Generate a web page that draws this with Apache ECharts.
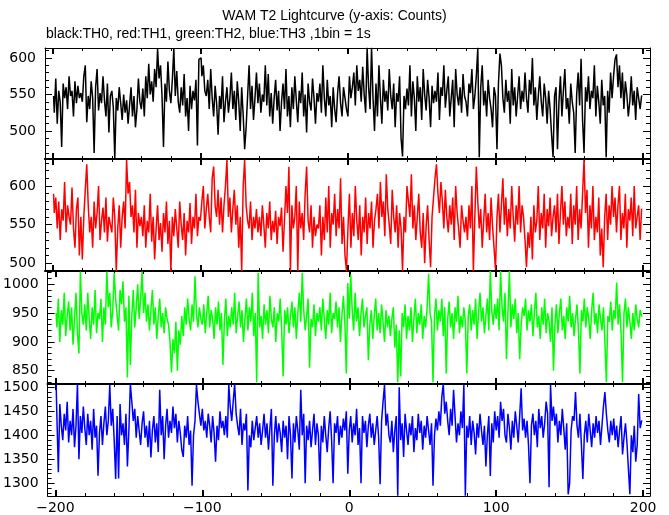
<!DOCTYPE html>
<html><head><meta charset="utf-8">
<script src="https://cdn.jsdelivr.net/npm/echarts@6/dist/echarts.min.js"></script>
<style>html,body{margin:0;padding:0;background:#fff}#c{width:669px;height:515px}</style>
</head><body><div id="c"></div><script>
// ---- data (1 bin = 1 s, first bin starts at -200 s) ----
const binStart = -200;
const binSize = 1;
const th0 = [
548,525,572,510,555,540,478,565,545,560,530,575,548,555,520,568,538,562,545,552,
540,575,590,512,548,530,568,545,470,560,585,528,552,538,575,542,520,565,498,548,
555,532,462,545,528,560,538,515,550,525,542,510,535,560,520,548,505,530,572,540,
530,558,520,575,545,592,550,568,540,585,560,613,572,590,548,478,565,540,595,555,
538,570,613,548,582,540,525,560,535,578,520,545,500,562,530,555,542,570,480,598,
600,575,590,555,548,570,530,585,545,520,562,538,495,548,530,575,512,540,560,525,
545,580,530,555,515,568,540,500,560,522,475,505,548,590,530,562,515,545,580,538,
565,525,550,540,590,535,578,520,552,510,545,570,528,555,500,540,565,530,585,520,
548,505,560,530,575,542,512,555,538,580,520,550,498,565,540,528,572,545,510,552,
540,565,525,590,545,520,570,535,548,505,560,530,512,552,575,538,520,560,545,530,
520,575,545,560,580,535,590,555,570,540,588,550,525,614,560,530,614,545,500,565,
520,590,545,510,570,540,555,528,585,548,530,565,505,552,540,575,490,465,548,530,
558,535,590,520,568,545,500,575,540,560,515,585,550,528,570,545,505,562,538,555,
540,580,515,560,548,590,532,555,575,520,545,570,505,585,550,535,560,525,578,548,
540,520,565,552,585,530,548,575,614,464,560,590,535,555,520,570,545,530,505,560,
548,475,565,606,590,545,525,570,540,555,510,585,535,560,520,548,575,530,555,540,
580,545,525,570,550,600,535,560,515,548,575,540,520,565,545,510,555,530,495,464,
548,560,475,540,575,520,555,585,530,545,510,565,540,525,470,550,580,535,599,515,
470,560,540,575,530,555,545,590,520,562,540,510,570,535,548,464,555,525,580,545,
575,598,605,560,590,545,580,530,568,550,520,540,575,535,555,515,560,545,530,548
];
const th1 = [
590,565,585,545,580,530,570,555,605,540,575,560,550,598,545,520,570,585,510,560,
505,560,595,628,575,540,560,520,580,545,565,600,530,555,572,540,585,528,560,550,
540,585,560,490,545,575,520,560,580,545,634,590,605,560,575,540,595,520,565,548,
560,535,575,520,555,540,590,528,560,505,545,575,530,552,515,565,540,580,525,555,
490,560,535,570,545,520,580,550,530,565,510,555,540,578,525,560,545,590,535,560,
555,580,600,545,570,590,560,540,610,625,575,560,595,550,585,540,575,600,634,560,
585,540,570,595,550,575,520,560,490,600,634,575,555,545,580,530,560,545,570,540,
560,535,575,550,520,565,545,580,530,555,540,568,525,560,548,572,515,555,600,565,
625,490,575,545,560,600,490,580,545,565,530,590,625,555,540,575,520,560,535,550,
545,575,510,560,530,585,540,600,520,565,550,590,535,570,545,610,525,560,510,490,
545,590,520,565,535,600,555,530,575,510,560,540,585,525,565,545,580,520,555,570,
590,545,605,560,580,535,615,570,550,525,595,560,540,575,520,565,545,490,560,540,
600,580,560,615,545,575,530,560,590,540,520,565,500,548,575,530,495,560,585,610,
628,590,565,605,580,545,595,560,540,575,550,585,530,600,565,545,520,575,555,540,
560,530,575,545,600,490,560,625,580,545,570,520,555,590,540,565,530,585,548,520,
492,560,590,540,575,610,550,585,535,570,545,600,560,528,575,550,600,540,575,560,
530,495,540,520,560,505,575,540,555,600,530,565,545,590,520,570,548,585,535,560,
575,540,590,525,565,600,550,580,535,560,545,590,525,575,550,600,530,570,545,590,
634,565,595,520,575,545,600,530,560,540,585,510,545,495,560,590,530,575,550,600,
560,585,540,575,600,530,565,545,590,520,570,555,585,535,600,545,560,575,530,570
];
const th2 = [
950,925,975,900,955,930,985,910,945,970,920,960,895,940,985,915,880,1022,950,930,
965,920,985,940,905,960,930,990,915,950,940,975,900,960,930,1022,960,985,925,955,
1020,975,945,920,990,965,1005,935,960,838,980,860,945,990,925,960,1000,940,975,1022,
950,985,935,965,920,955,990,930,960,905,945,975,925,950,915,960,940,930,900,847,
905,880,935,850,920,895,945,910,960,930,975,940,920,965,935,1014,950,925,960,940,
930,965,915,950,980,925,955,940,905,960,930,970,920,950,860,935,975,910,945,925,
960,930,985,915,945,970,925,955,900,940,975,920,960,935,985,910,950,830,1020,925,
945,905,965,930,955,915,980,940,925,960,900,950,935,975,920,840,955,930,960,915,
945,970,925,960,905,950,985,935,1020,955,920,945,975,855,940,925,965,910,950,935,
960,920,975,940,905,955,930,985,915,950,940,970,925,960,900,945,980,935,845,1002,
940,1017,955,920,985,935,960,910,950,975,925,945,960,868,930,955,905,945,975,920,
950,915,965,935,900,955,925,945,910,940,960,890,930,830,920,840,950,925,965,905,
945,920,960,900,940,975,915,950,930,965,905,945,925,960,1018,950,935,830,945,975,
920,955,935,975,910,960,845,940,970,925,950,905,960,935,980,915,945,925,960,935,
845,945,965,920,955,930,975,905,950,985,935,960,915,945,975,920,1023,955,930,965,
940,975,920,1023,960,935,985,870,950,1023,925,965,940,975,915,950,870,930,960,945,
975,920,955,935,965,910,950,985,925,945,905,960,930,975,915,950,935,900,960,850,
930,965,915,950,975,920,945,905,960,935,980,925,950,910,940,965,920,845,955,935,
975,925,960,940,905,955,985,930,950,915,965,940,920,960,900,830,945,935,970,920,
955,940,1003,930,965,915,830,950,975,925,960,935,905,950,920,965,940,925,955,945
];
const th3 = [
1505,1440,1323,1465,1420,1390,1445,1410,1470,1385,1430,1400,1455,1375,1420,1507,1350,1440,1405,1460,
1415,1380,1445,1400,1430,1370,1455,1395,1420,1316,1405,1440,1380,1425,1460,1400,1430,1505,1420,1455,
1390,1309,1440,1310,1465,1400,1425,1380,1445,1335,1410,1507,1470,1430,1455,1395,1440,1410,1380,1425,
1450,1395,1420,1375,1430,1354,1410,1440,1385,1425,1365,1495,1400,1440,1350,1420,1455,1395,1430,1405,
1460,1415,1445,1385,1430,1405,1370,1355,1420,1395,1440,1380,1410,1295,1400,1430,1505,1470,1445,1420,
1455,1410,1430,1395,1445,1420,1385,1440,1405,1345,1420,1390,1450,1415,1430,1400,1440,1395,1505,1460,
1430,1470,1507,1445,1420,1400,1455,1380,1425,1410,1445,1285,1400,1375,1430,1390,1415,1440,1395,1425,
1380,1410,1445,1395,1425,1370,1415,1455,1295,1400,1440,1385,1425,1405,1365,1430,1395,1420,1350,1440,
1400,1310,1425,1385,1440,1410,1370,1495,1400,1445,1300,1420,1390,1430,1375,1410,1445,1380,1425,1400,
1305,1420,1385,1440,1400,1365,1415,1450,1390,1300,1425,1405,1440,1380,1420,1395,1435,1410,1450,1320,
1410,1440,1385,1425,1400,1455,1380,1415,1300,1440,1405,1430,1375,1420,1445,1395,1425,1380,1410,1440,
1395,1298,1430,1470,1505,1420,1445,1400,1385,1430,1365,1410,1440,1274,1500,1390,1425,1355,1445,1410,
1380,1425,1400,1440,1365,1415,1390,1445,1405,1430,1370,1420,1395,1440,1410,1380,1425,1295,1400,1435,
1410,1450,1420,1480,1507,1445,1470,1430,1400,1455,1420,1495,1440,1385,1425,1400,1450,1415,1505,1274,
1420,1395,1440,1380,1430,1405,1360,1425,1395,1445,1410,1380,1420,1335,1400,1440,1315,1425,1385,1450,
1410,1440,1395,1470,1430,1455,1400,1385,1445,1415,1370,1430,1395,1450,1420,1385,1440,1498,1410,1435,
1395,1430,1380,1300,1420,1445,1400,1430,1375,1455,1415,1440,1395,1425,1470,1445,1292,1505,1430,1460,
1420,1445,1385,1430,1400,1455,1415,1370,1425,1277,1300,1410,1440,1430,1490,1420,1395,1445,1380,1309,
1400,1430,1385,1445,1410,1375,1425,1395,1440,1405,1430,1380,1420,1460,1490,1445,1410,1385,1430,1400,
1435,1390,1420,1375,1410,1440,1360,1395,1425,1385,1330,1277,1400,1365,1420,1345,1380,1486,1415,1430
];
const seriesNames = ['TH0','TH1','TH2','TH3'];
const xMajorTicks = [-200,-100,0,100,200];
const xMinorTicks = [-200,-180,-160,-140,-120,-100,-80,-60,-40,-20,0,20,40,60,80,100,120,140,160,180,200];
const yExtents = [[461.6,613.7],[490,634.9],[826.9,1023],[1273.5,1506.9]];
const titleText = 'WAM T2 Lightcurve (y-axis: Counts)';
const subtitleText = 'black:TH0, red:TH1, green:TH2, blue:TH3 ,1bin = 1s';

// ---- chart ----
const colors = ['#000000','#ff0000','#00ff00','#0000ff'];
const allData = [th0, th1, th2, th3];
const gridTops = [48,159,271,384];
const gridHeights = [111,112,113,112];
const LBL = 'DejaVu Sans, sans-serif';
const TTL = 'Liberation Sans, Arial, sans-serif';
function steps(a, b, s){ const r=[]; for(let v=a; v<=b+1e-9; v+=s) r.push(v); return r; }
const minus = v => String(v).replace('-', '\u2212');

const grids=[], xAxes=[], yAxes=[], series=[];
for (let i=0;i<4;i++){
  grids.push({left:45, width:605, top:gridTops[i], height:gridHeights[i]});
  const [ymin, ymax] = yExtents[i];
  const yMinor = steps(Math.ceil(ymin/10)*10, ymax, 10);
  const yMajor = steps(Math.ceil(ymin/50)*50, ymax, 50);
  const xBase = {type:'value', gridIndex:i, min:-205.3, max:204.7, splitLine:{show:false}, axisLabel:{show:false}, axisPointer:{show:false}};
  for (const pos of ['bottom','top']){
    const inner = pos==='bottom' ? i<3 : i>0;
    xAxes.push(Object.assign({}, xBase, {
      position:pos,
      axisLine:{show:true, onZero:false, lineStyle:{color:'#000', width: inner?2:1}},
      axisTick:{show:true, inside:true, length:6, customValues:xMajorTicks, lineStyle:{color:'#000', width:2}},
      axisLabel:(pos==='bottom' && i===3) ? {show:true, customValues:xMajorTicks, margin:5, color:'#000', fontSize:14, fontFamily:LBL, formatter:minus} : {show:false}
    }));
    xAxes.push(Object.assign({}, xBase, {
      position:pos,
      axisLine:{show:false, onZero:false},
      axisTick:{show:true, inside:true, length:3, customValues:xMinorTicks, lineStyle:{color:'#000', width:1}}
    }));
  }
  const yBase = {type:'value', gridIndex:i, min:ymin, max:ymax, splitLine:{show:false}, axisLabel:{show:false}};
  for (const pos of ['left','right']){
    yAxes.push(Object.assign({}, yBase, {
      position:pos,
      axisLine:{show:true, onZero:false, lineStyle:{color:'#000', width:1}},
      axisTick:{show:true, inside:true, length:7, customValues:yMajor, lineStyle:{color:'#000', width:1}},
      axisLabel: pos==='left' ? {show:true, customValues:yMajor, margin:9, color:'#000', fontSize:14, fontFamily:LBL, formatter:v=>String(v)} : {show:false}
    }));
    yAxes.push(Object.assign({}, yBase, {
      position:pos,
      axisLine:{show:false, onZero:false},
      axisTick:{show:true, inside:true, length:4, customValues:yMinor, lineStyle:{color:'#000', width:1}}
    }));
  }
  series.push({
    name: seriesNames[i], type:'line', xAxisIndex:4*i, yAxisIndex:4*i,
    step:'middle', showSymbol:false, symbol:'none', silent:true,
    lineStyle:{color:colors[i], width:1.5},
    data: allData[i].map((v,k)=>[binStart + (k+0.5)*binSize, v])
  });
}

const chart = echarts.init(document.getElementById('c'), null, {renderer:'canvas'});
chart.setOption({
  animation:false,
  backgroundColor:'#ffffff',
  title:[
    {text:titleText, left:'center', top:9, padding:0, textStyle:{fontSize:14, fontWeight:'normal', color:'#000', fontFamily:TTL}},
    {text:subtitleText, left:46, top:27, padding:0, textStyle:{fontSize:14, fontWeight:'normal', color:'#000', fontFamily:TTL}}
  ],
  grid:grids, xAxis:xAxes, yAxis:yAxes, series:series
});
</script></body></html>
